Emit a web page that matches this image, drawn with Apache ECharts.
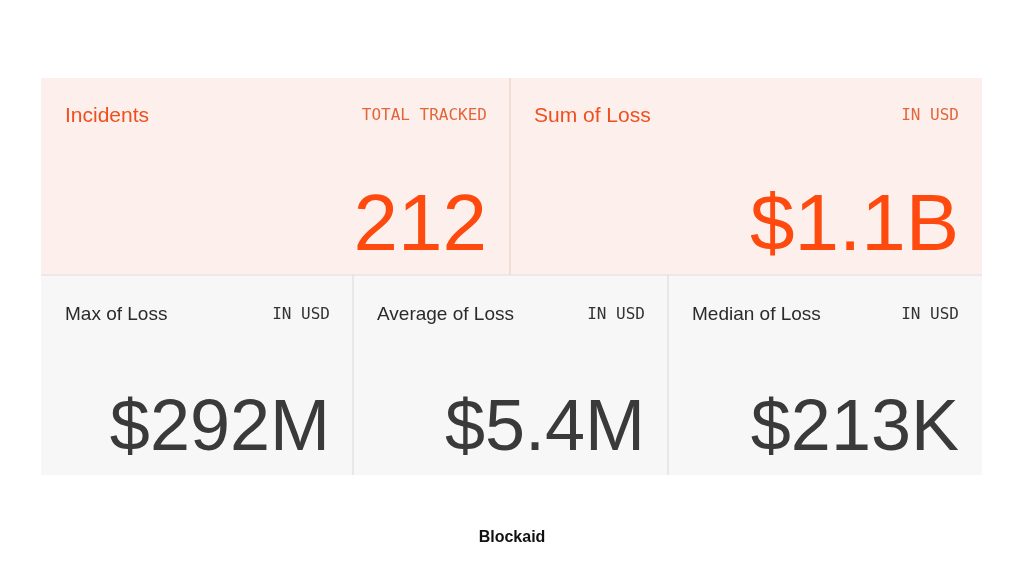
<!DOCTYPE html>
<html><head><meta charset="utf-8">
<script src="https://cdn.jsdelivr.net/npm/echarts@6/dist/echarts.min.js"></script>
<style>html,body{margin:0;padding:0;background:#fff}#c{width:1024px;height:576px}</style>
</head><body><div id="c"></div>
<script>
const titles = ['Incidents', 'Sum of Loss', 'Max of Loss', 'Average of Loss', 'Median of Loss'];
const units = ['TOTAL TRACKED', 'IN USD', 'IN USD', 'IN USD', 'IN USD'];
const values = ['212', '$1.1B', '$292M', '$5.4M', '$213K'];
const brand = 'Blockaid';

const cards = [
  {x:41, y:78, w:469, h:197, top:true},
  {x:510, y:78, w:472, h:197, top:true},
  {x:41, y:275, w:312, h:200, top:false},
  {x:353, y:275, w:315, h:200, top:false},
  {x:668, y:275, w:314, h:200, top:false}
];
const g = [];
cards.forEach((c, i) => {
  g.push({type:'rect', shape:{x:c.x, y:c.y, width:c.w, height:c.h}, style:{fill: c.top ? '#fdf0ec' : '#f7f7f7'}});
});
g.push({type:'line', shape:{x1:510, y1:78, x2:510, y2:275}, style:{stroke:'#e6c9c0', lineWidth:1}});
g.push({type:'line', shape:{x1:41, y1:275, x2:982, y2:275}, style:{stroke:'#dedede', lineWidth:1}});
g.push({type:'line', shape:{x1:353, y1:275, x2:353, y2:475}, style:{stroke:'#d8d8d8', lineWidth:1}});
g.push({type:'line', shape:{x1:668, y1:275, x2:668, y2:475}, style:{stroke:'#d8d8d8', lineWidth:1}});
cards.forEach((c, i) => {
  const right = c.x + c.w - 23;
  const ty = c.top ? 116 : 315;
  g.push({type:'text', style:{x:c.x+24, y:ty, text:titles[i], fill:c.top?'#f04e1e':'#2b2b2b', font:(c.top?'21px':'19px')+' "Liberation Sans", Arial', textVerticalAlign:'middle'}});
  g.push({type:'text', style:{x:right, y:ty, text:units[i], fill:c.top?'#e2663a':'#333', font:'16px "DejaVu Sans Mono", monospace', textAlign:'right', textVerticalAlign:'middle'}});
  g.push({type:'text', style:{x:right, y:c.top?268:466, text:values[i], fill:c.top?'#ff4a0f':'#3a3a3a', font:(c.top?'80px':'72px')+' "Liberation Sans", Arial', textAlign:'right', textVerticalAlign:'bottom'}});
});
g.push({type:'text', style:{x:512, y:538, text:brand, fill:'#111', font:'bold 16px "Liberation Sans", Arial', textAlign:'center', textVerticalAlign:'middle'}});

const chart = echarts.init(document.getElementById('c'));
chart.setOption({animation:false, graphic:g});
</script></body></html>
